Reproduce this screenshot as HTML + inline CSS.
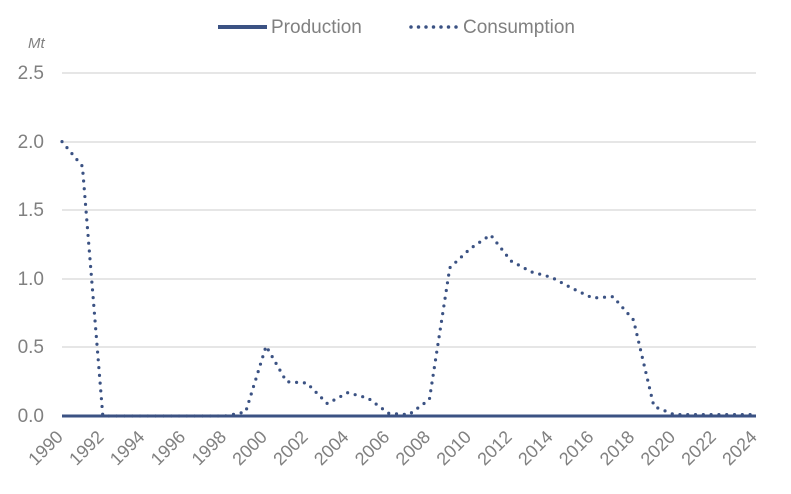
<!DOCTYPE html>
<html><head><meta charset="utf-8"><style>
body{margin:0;background:#fff;}
svg text{font-family:"Liberation Sans",sans-serif;fill:#808080;}
</style></head><body>
<svg id="s" width="791" height="489" xmlns="http://www.w3.org/2000/svg">
<g stroke="#e6e6e6" stroke-width="2">
<line x1="62" x2="756" y1="73" y2="73"/><line x1="62" x2="756" y1="142" y2="142"/>
<line x1="62" x2="756" y1="210" y2="210"/><line x1="62" x2="756" y1="279" y2="279"/>
<line x1="62" x2="756" y1="347" y2="347"/>
</g>
<g font-size="19" text-anchor="end">
<text x="44" y="79">2.5</text><text x="44" y="148">2.0</text><text x="44" y="216">1.5</text>
<text x="44" y="285">1.0</text><text x="44" y="353">0.5</text><text x="44" y="422">0.0</text>
</g>
<text x="28" y="48" font-size="15" font-style="italic">Mt</text>
<line x1="218" x2="267" y1="27" y2="27" stroke="#3b5283" stroke-width="4"/>
<text x="271" y="33" font-size="19">Production</text>
<line x1="411" x2="458" y1="27" y2="27" stroke="#3b5283" stroke-width="3.5" stroke-dasharray="0 7.5" stroke-linecap="round"/>
<text x="463" y="33" font-size="19">Consumption</text>
<path id="c" fill="none" stroke="#3b5283" stroke-width="3.2" stroke-dasharray="0 7.8" stroke-linecap="round"/>
<line x1="62" x2="756" y1="416" y2="416" stroke="#3b5283" stroke-width="3"/>
<g id="xl" font-size="18" text-anchor="end"></g>
</svg>
<script>
var v=[2.0,1.82,0,0,0,0,0,0,0,0.03,0.51,0.25,0.24,0.09,0.17,0.13,0.02,0.01,0.12,1.08,1.22,1.32,1.13,1.05,1.01,0.93,0.86,0.87,0.7,0.07,0.01,0.01,0.01,0.01,0.01];
var X=function(i){return 62+i*20.41},Y=function(v){return 416-v*137.2};
var d="";
for(var i=0;i<v.length;i++){d+=(i?" L":"M")+X(i)+","+Y(v[i]);}
document.getElementById("c").setAttribute("d",d);
var g=document.getElementById("xl"),s="";
for(var y=1990;y<=2024;y+=2){var x=X(y-1990)+2;s+='<text x="'+x+'" y="438" transform="rotate(-45 '+x+' 438)">'+y+'</text>';}
g.innerHTML=s;
</script>
</body></html>
